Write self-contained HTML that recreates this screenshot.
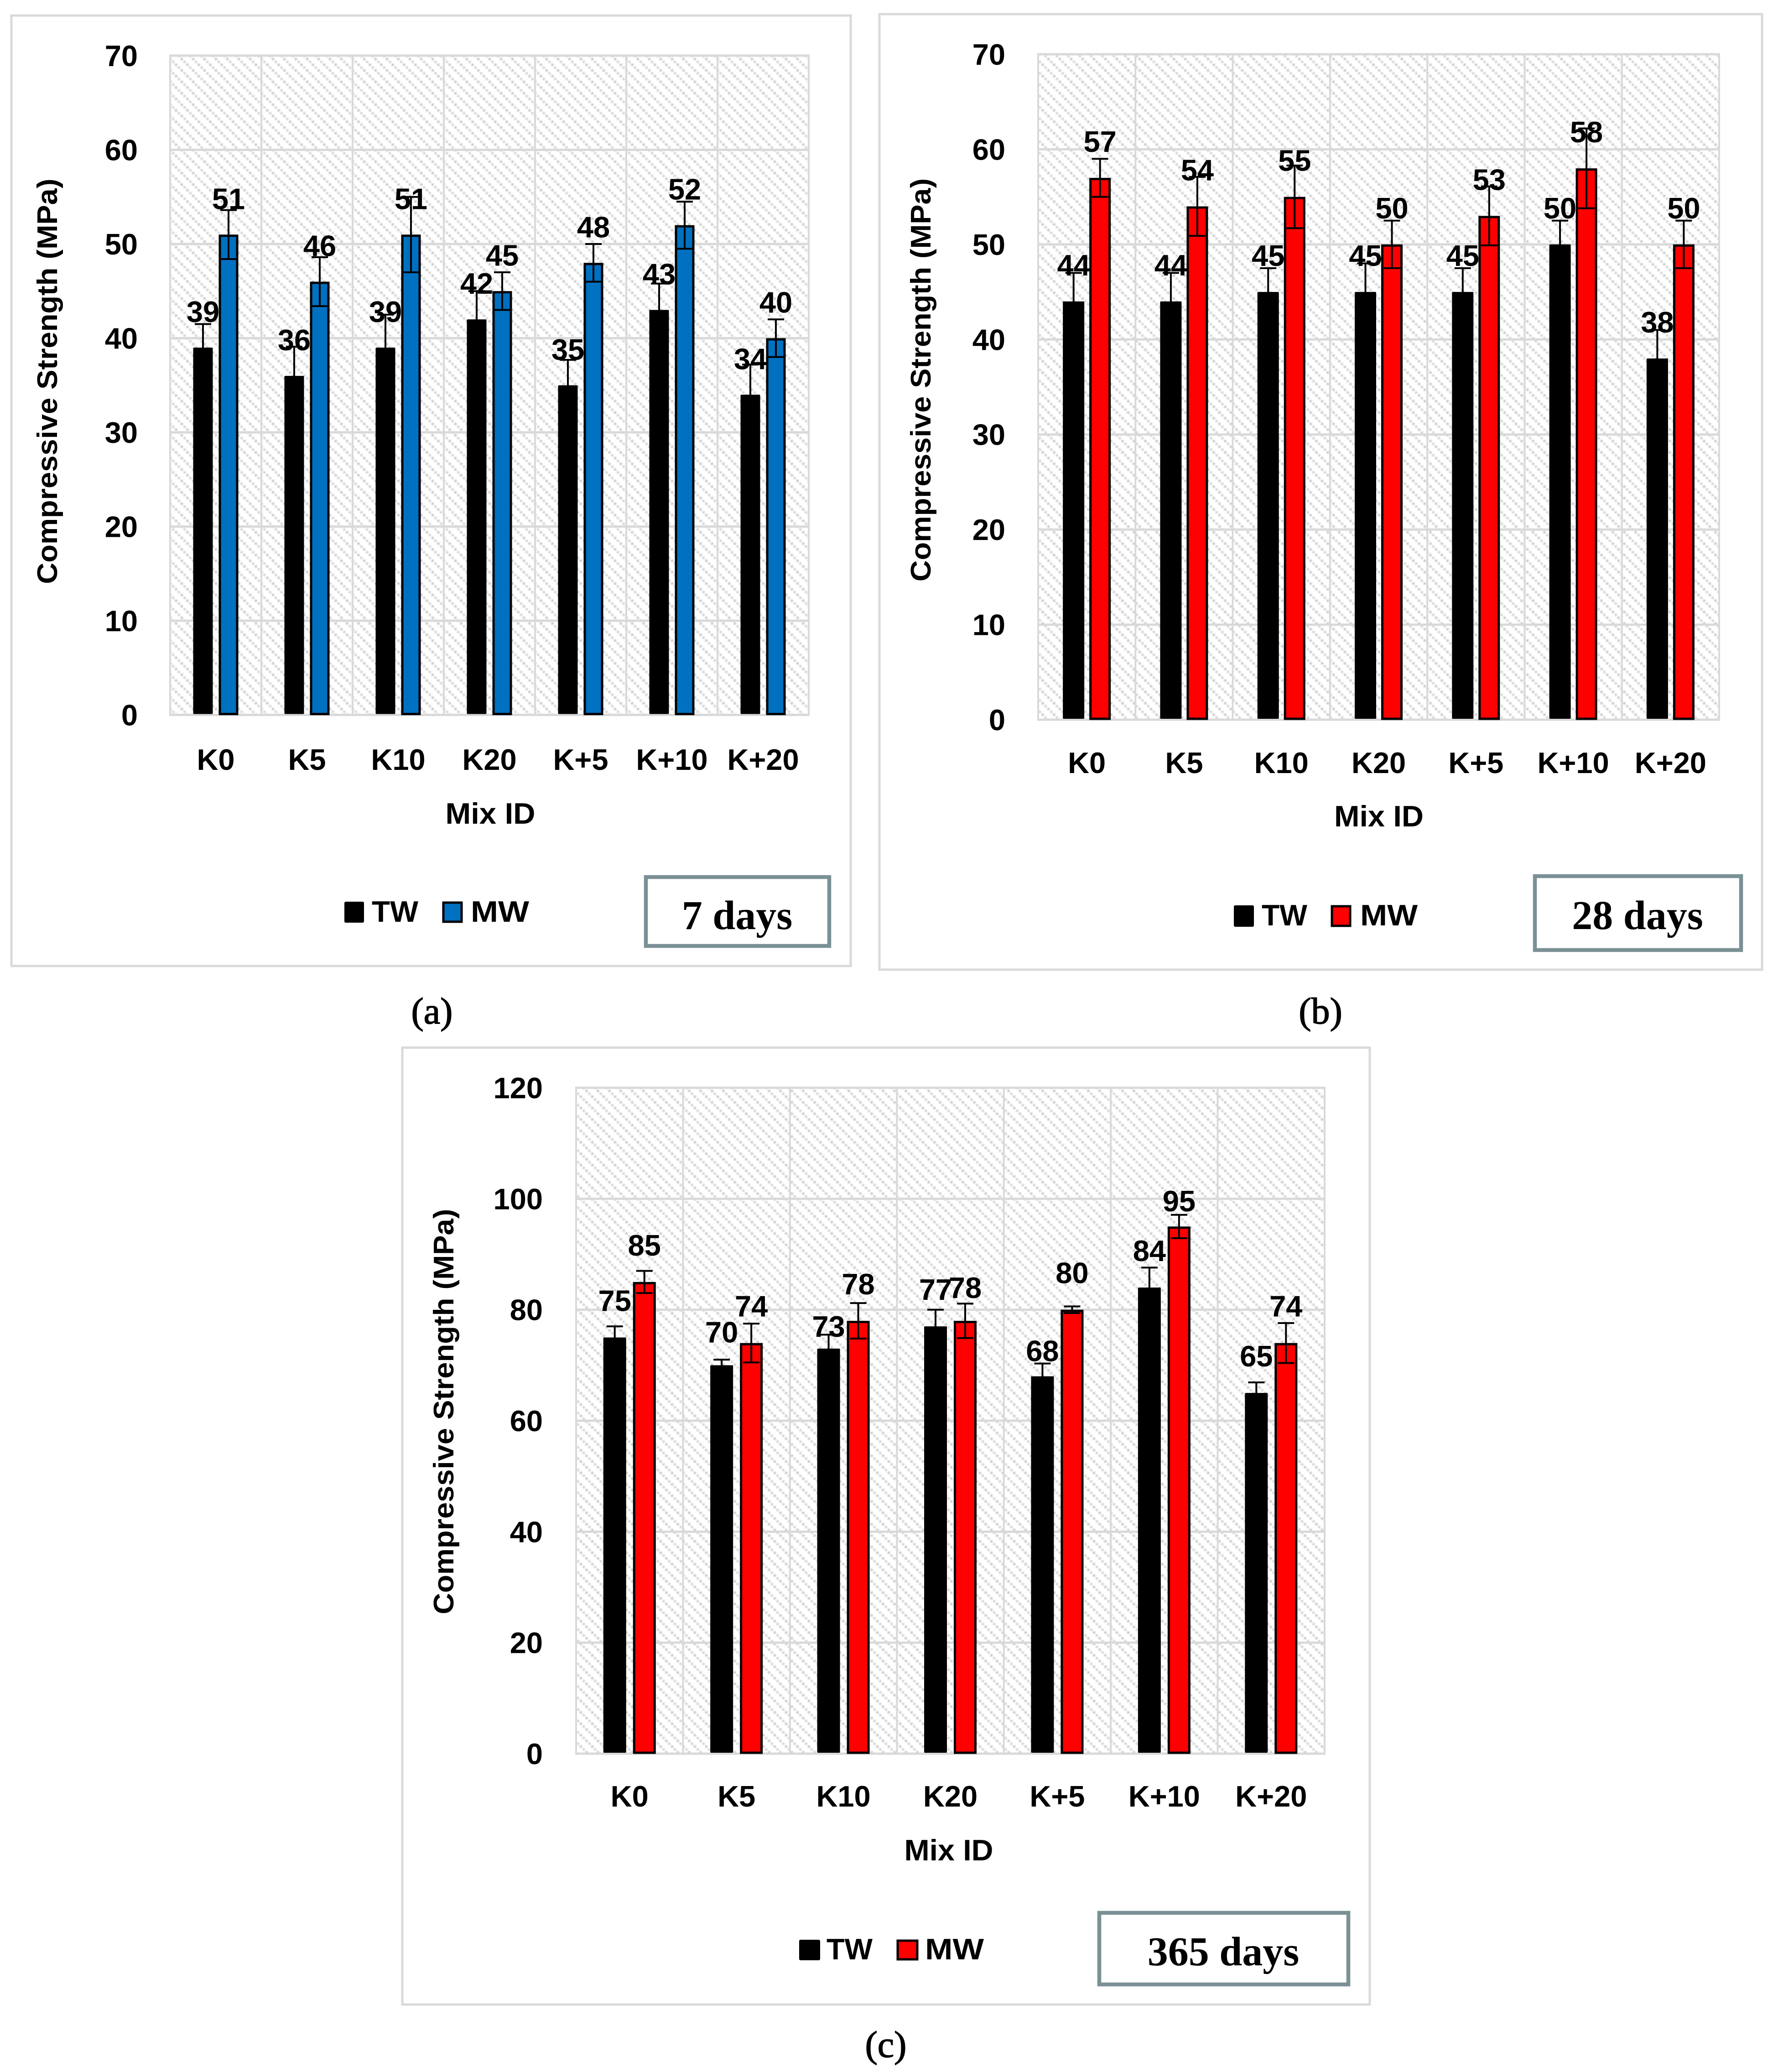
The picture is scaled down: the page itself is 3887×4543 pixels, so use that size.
<!DOCTYPE html>
<html lang="en">
<head>
<meta charset="utf-8">
<title>Compressive Strength by Mix ID</title>
<style>
html,body{margin:0;padding:0;background:#fff;width:3887px;height:4543px;overflow:hidden}
svg{display:block}
text{font-family:"Liberation Sans",sans-serif;font-weight:700;fill:#000}
.serif{font-family:"Liberation Serif",serif}
.cap{font-family:"Liberation Serif",serif;font-weight:400;font-size:82px;text-anchor:middle;stroke:#000;stroke-width:1.5}
.tick{font-size:65px;text-anchor:end}
.cat{font-size:65px;text-anchor:middle}
.val{font-size:65px;text-anchor:middle}
.ttl{font-size:62px;text-anchor:middle}
.leg{font-size:65px}
.frame{fill:#fff;stroke:#d9d9d9;stroke-width:5}
.age{fill:#fff;stroke:#7a9095;stroke-width:8.5}
.agetxt{font-family:"Liberation Serif",serif;font-size:90px;text-anchor:middle}
</style>
</head>
<body>
<svg id="root" xmlns="http://www.w3.org/2000/svg" width="3887" height="4543" viewBox="0 0 3887 4543">
  <defs>
    <pattern id="hatch" patternUnits="userSpaceOnUse" x="396" y="127" width="25" height="25">
      <rect x="0" y="0" width="5" height="5" fill="#c4c4c4"/>
      <rect x="6.25" y="6.25" width="5" height="5" fill="#d0d0d0"/>
      <rect x="12.5" y="12.5" width="5" height="5" fill="#c4c4c4"/>
      <rect x="18.75" y="18.75" width="5" height="5" fill="#d0d0d0"/>
    </pattern>
    <filter id="soft" x="0" y="0" width="100%" height="100%">
      <feGaussianBlur stdDeviation="1.2"/>
    </filter>
  </defs>
  <rect width="3887" height="4543" fill="#fff"/>

  <!-- Panel a -->
  <g>
    <rect class="frame" x="25" y="34" width="1840" height="2084"/>
    <g id="chart-a"></g>
    <text class="ttl" transform="translate(125,836) rotate(-90)" textLength="889" lengthAdjust="spacingAndGlyphs">Compressive Strength (MPa)</text>
    <text class="ttl" x="1075" y="1806" style="font-size:65px" textLength="197" lengthAdjust="spacingAndGlyphs">Mix ID</text>
    <rect x="755" y="1977" width="43" height="46" rx="3" fill="#000"/>
    <text class="leg" x="815" y="2021" textLength="102" lengthAdjust="spacingAndGlyphs">TW</text>
    <rect x="972" y="1979" width="40" height="42" fill="#0070c0" stroke="#000" stroke-width="5"/>
    <text class="leg" x="1032" y="2021" textLength="128" lengthAdjust="spacingAndGlyphs">MW</text>
    <rect class="age" x="1416" y="1923" width="402" height="151"/>
    <text class="agetxt" x="1616" y="2037">7 days</text>
    <text class="cap" x="947" y="2244">(a)</text>
  </g>

  <!-- Panel b -->
  <g>
    <rect class="frame" x="1928" y="31" width="1935" height="2095"/>
    <g id="chart-b"></g>
    <text class="ttl" transform="translate(2040,833) rotate(-90)" textLength="884" lengthAdjust="spacingAndGlyphs">Compressive Strength (MPa)</text>
    <text class="ttl" x="3023" y="1812" style="font-size:65px" textLength="196" lengthAdjust="spacingAndGlyphs">Mix ID</text>
    <rect x="2705" y="1985" width="44" height="47" rx="3" fill="#000"/>
    <text class="leg" x="2766" y="2029" textLength="100" lengthAdjust="spacingAndGlyphs">TW</text>
    <rect x="2920" y="1987" width="40" height="43" fill="#ff0000" stroke="#000" stroke-width="5"/>
    <text class="leg" x="2982" y="2029" textLength="126" lengthAdjust="spacingAndGlyphs">MW</text>
    <rect class="age" x="3365" y="1921" width="452" height="162"/>
    <text class="agetxt" x="3590" y="2037">28 days</text>
    <text class="cap" x="2895" y="2244">(b)</text>
  </g>

  <!-- Panel c -->
  <g>
    <rect class="frame" x="882" y="2297" width="2121" height="2098"/>
    <g id="chart-c"></g>
    <text class="ttl" transform="translate(994,3095) rotate(-90)" textLength="889" lengthAdjust="spacingAndGlyphs">Compressive Strength (MPa)</text>
    <text class="ttl" x="2080" y="4079" style="font-size:65px" textLength="195" lengthAdjust="spacingAndGlyphs">Mix ID</text>
    <rect x="1752" y="4253" width="46" height="45" rx="3" fill="#000"/>
    <text class="leg" x="1812" y="4296" textLength="101" lengthAdjust="spacingAndGlyphs">TW</text>
    <rect x="1968" y="4255" width="43" height="41" fill="#ff0000" stroke="#000" stroke-width="5"/>
    <text class="leg" x="2028" y="4296" textLength="129" lengthAdjust="spacingAndGlyphs">MW</text>
    <rect class="age" x="2410" y="4194" width="546" height="157"/>
    <text class="agetxt" x="2682" y="4309">365 days</text>
    <text class="cap" x="1942" y="4510">(c)</text>
  </g>
</svg>

<script>
// ---- data ----
const categories = ['K0', 'K5', 'K10', 'K20', 'K+5', 'K+10', 'K+20'];

const yTicks7 = [0, 10, 20, 30, 40, 50, 60, 70];
const tw7 = [39, 36, 39, 42, 35, 43, 34];
const mw7 = [51, 46, 51, 45, 48, 52, 40];
const twErr7 = [2.5, 3.1, 3.5, 3, 2.7, 2.8, 3.2];
const mwErr7 = [2.6, 2.6, 4, 2, 2, 2.5, 2];

const yTicks28 = [0, 10, 20, 30, 40, 50, 60, 70];
const tw28 = [44, 44, 45, 45, 45, 50, 38];
const mw28 = [57, 54, 55, 50, 53, 58, 50];
const twErr28 = [3, 3, 2.5, 3, 2.5, 2.5, 3];
const mwErr28 = [2, 3.1, 3.3, 2.5, 3.1, 4.2, 2.5];

const yTicks365 = [0, 20, 40, 60, 80, 100, 120];
const tw365 = [75, 70, 73, 77, 68, 84, 65];
const mw365 = [85, 74, 78, 78, 80, 95, 74];
const twErr365 = [2, 1, 2.5, 3, 2.3, 3.6, 1.9];
const mwErr365 = [2, 3.5, 3.2, 3.1, 0.6, 2.1, 3.6];

// ---- drawing ----
const NS = 'http://www.w3.org/2000/svg';
function mk(tag, attrs, parent) {
  const el = document.createElementNS(NS, tag);
  for (const k in attrs) el.setAttribute(k, attrs[k]);
  parent.appendChild(el);
  return el;
}

function drawChart(host, box, twVals, mwVals, twErrs, mwErrs, ticks, mwColour) {
  const g = document.getElementById(host);
  const maxV = ticks[ticks.length - 1];
  const yAxis = v => box.y0 - (v / maxV) * (box.y0 - box.top);
  const band = (box.right - box.left) / categories.length;
  const xAxis = i => box.left + (i + 0.5) * band;

  const plot = mk('rect', {x: box.left, y: box.top, width: box.right - box.left, height: box.y0 - box.top, fill: 'url(#hatch)', filter: 'url(#soft)'}, g);
  
  

  ticks.forEach(t => {
    const line = mk('line', {x1: box.left - 2, x2: box.right + 2, y1: yAxis(t), y2: yAxis(t), stroke: '#d9d9d9', 'stroke-width': 5}, g);
    
    
    const lab = mk('text', {class: 'tick', x: box.tickX, y: yAxis(t) + 23}, g);
    
    
    lab.textContent = t;
  });
  for (let i = 0; i <= categories.length; i++) {
    const vx = box.left + i * band;
    const line = mk('line', {x1: vx, x2: vx, y1: box.top, y2: box.y0, stroke: '#d9d9d9', 'stroke-width': 4}, g);
    
    
  }

  const labels = [];
  categories.forEach((c, i) => {
    const cx = xAxis(i);
    const catLab = mk('text', {class: 'cat', x: cx, y: box.catY}, g);
    
    
    catLab.textContent = c;

    const twx = cx - box.off, mwx = cx + box.off, hw = box.barW / 2;

    const twBar = mk('rect', {x: twx - hw, y: yAxis(twVals[i]), width: box.barW, height: box.y0 - 2 - yAxis(twVals[i]), rx: 2, fill: '#000'}, g);
    
    

    const mwBar = mk('rect', {x: mwx - hw + 2.5, y: yAxis(mwVals[i]) + 2.5, width: box.barW - 5, height: box.y0 - 4.5 - yAxis(mwVals[i]), fill: mwColour, stroke: '#000', 'stroke-width': 5}, g);
    
    

    [[twx, twVals[i], twErrs[i], box.twShift], [mwx, mwVals[i], mwErrs[i], box.mwShift]].forEach(([ex, v, e, shift]) => {
      const hi = yAxis(v + e), lo = yAxis(v - e);
      const eb = mk('path', {d: 'M' + ex + ' ' + hi + 'V' + lo + 'M' + (ex - 18) + ' ' + hi + 'H' + (ex + 18) + 'M' + (ex - 18) + ' ' + lo + 'H' + (ex + 18), fill: 'none', stroke: '#000', 'stroke-width': 4}, g);
      
      
      labels.push([ex, v, shift ? shift[i] : 0]);
    });
  });

  labels.forEach(([lx, v, shift]) => {
    const t = mk('text', {class: 'val', x: lx, y: yAxis(v) - box.labelGap + shift}, g);
    
    
    t.textContent = v;
  });
}

const layoutA = {left: 373, right: 1773, top: 122, y0: 1567.5, tickX: 302, catY: 1688, off: 28, barW: 43, labelGap: 56};
const layoutB = {left: 2276, right: 3769, top: 119, y0: 1578, tickX: 2204, catY: 1695, off: 29, barW: 47, labelGap: 57};
const layoutC = {left: 1263, right: 2904, top: 2385, y0: 3845, tickX: 1190, catY: 3961, off: 32.5, barW: 50, labelGap: 58,
  twShift: [0, 8, 32, 0, 25, 0, 0],
  mwShift: [0, 0, 0, 8, 0, 25, 0]};

drawChart('chart-a', layoutA, tw7, mw7, twErr7, mwErr7, yTicks7, '#0070c0');
drawChart('chart-b', layoutB, tw28, mw28, twErr28, mwErr28, yTicks28, '#ff0000');
drawChart('chart-c', layoutC, tw365, mw365, twErr365, mwErr365, yTicks365, '#ff0000');
</script>
</body>
</html>
